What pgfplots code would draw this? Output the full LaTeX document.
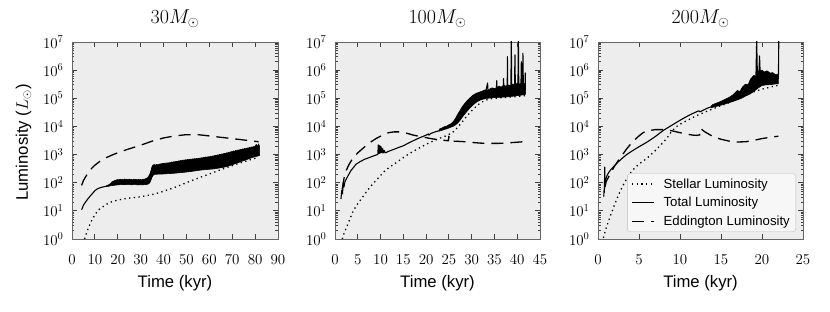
\RequirePackage{fix-cm}
\documentclass[border=0pt]{standalone}
\usepackage[no-math]{fontspec}
\setmainfont{Liberation Sans}
\usepackage{pgfplots}
\pgfplotsset{compat=1.18}

\tikzset{
  stellar/.style={black, line width=1.3pt, dash pattern=on 1.3pt off 3.4pt},
  total/.style={black, line width=1.1pt, line join=round},
  band/.style={black, fill=black, line width=0.6pt, line join=round},
  edd/.style={black, line width=1.3pt, dash pattern=on 12pt off 7pt},
}
\pgfplotsset{
  every axis/.append style={
    scale only axis, height=197pt,
    ymin=1, ymax=1e7,
    ytick={1,10,100,1000,10000,100000,1000000,10000000},
    axis line style={black!60, line width=0.8pt},
    tick style={black!75, line width=0.8pt},
    major tick length=5pt, minor tick length=2.5pt,
    tick label style={font=\fontsize{15}{18}\selectfont},
    xticklabel style={anchor=base, yshift=-26pt},
    yticklabel style={xshift=-5pt},
    xlabel={Time (kyr)},
    xlabel style={at={(axis description cs:0.5,-0.223)}, anchor=center, font=\fontsize{16.7}{20}\selectfont},
    ylabel style={font=\fontsize{16.7}{20}\selectfont},
    title style={at={(axis description cs:0.5,1)}, anchor=base, yshift=12pt, font=\fontsize{20}{24}\selectfont},
  },
}

\begin{document}
\begin{tikzpicture}
\useasboundingbox (0,0) rectangle (830pt,312pt);

% ---------------- Panel 1: 30 Msun ----------------
\begin{semilogyaxis}[at={(72pt,73pt)}, anchor=south west, width=206pt,
  axis background/.style={fill=black!7},
  xmin=0, xmax=90, xtick={0,10,...,90},
  title={$30M_{\odot}$},
  ylabel={Luminosity ($L_{\odot}$)},
  ylabel style={at={(axis description cs:-0.235,0.49)}, anchor=center}]
\addplot[stellar] coordinates {
(5.5,1) (6.2,1.5) (7,2.3) (8,3.6) (9,5.2) (10,7.2) (11,9.5) (12,11.5) (14,15) (16,19) (18,22) (20,24) (23,27) (26,29) (29,31) (32,34) (35,38) (38,44) (41,53) (44,64) (47,80) (50,100) (53,125) (56,155) (59,190) (62,235) (65,290) (68,355) (71,430) (74,520) (77,620) (80,740) (81.5,800)};
\addplot[total] coordinates {
(4.2,11) (4.6,13) (5,16) (6,21) (7,27) (8,34) (9,42) (10,52) (11,60) (12,65) (13,69) (14,72) (15,75)};
\addplot[band, forget plot] coordinates {
(15,78) (16,84) (17,96) (17.5,108) (18,112) (18.5,118) (19,122) (19.5,126) (20,130) (20.5,125) (21,134) (21.5,128) (22,132) (22.5,126) (23,136) (23.5,129) (24,133) (24.5,127) (25,135) (25.5,128) (26,131) (26.5,125) (27,134) (27.5,128) (28,131) (28.5,124) (29,133) (29.5,127) (30,130) (30.5,125) (31,134) (31.5,130) (32,138) (32.5,142) (33,150) (33.5,170) (34,200) (34.5,270) (35,380) (35.5,430) (36,440) (36.5,420)
(37,450) (37.5,430) (38,445) (38.5,470) (39,460) (39.5,490) (40,475) (40.5,500) (41,485) (41.5,510) (42,495) (42.5,520) (43,515) (43.5,545) (44,530) (44.5,560) (45,545) (45.5,575) (46,560) (46.5,600) (47,585) (47.5,620) (48,605) (48.5,640) (49,625) (49.5,655) (50,640) (50.5,670) (51,655) (51.5,690) (52,670) (52.5,700) (53,690) (53.5,720) (54,700) (54.5,730) (55,715) (55.5,750) (56,735) (56.5,770) (57,755) (57.5,800) (58,780) (58.5,820) (59,800) (59.5,840) (60,820) (60.5,870) (61,850) (61.5,900) (62,880) (62.5,940) (63,920) (63.5,980) (64,950) (64.5,1020) (65,990) (65.5,1060) (66,1030) (66.5,1110) (67,1080) (67.5,1160) (68,1130) (68.5,1220) (69,1190) (69.5,1280) (70,1250) (70.5,1340) (71,1300) (71.5,1400) (72,1360) (72.5,1460) (73,1420) (73.5,1520) (74,1480) (74.5,1600) (75,1550) (75.5,1650) (76,1600) (76.5,1720) (77,1680) (77.5,1800) (78,1750) (78.5,1880) (79,1820) (79.5,1950) (80,1900) (80.5,2300) (81,1900) (81.5,2400) (82,1900)
(82,950) (81.5,900) (81,880) (80.5,860) (80,840) (79.5,820) (79,800) (78.5,770) (78,750) (77.5,720) (77,700) (76.5,670) (76,650) (75.5,630) (75,610) (74.5,590) (74,570) (73.5,550) (73,530) (72.5,510) (72,495) (71.5,480) (71,465) (70.5,450) (70,435) (69.5,420) (69,405) (68.5,395) (68,385) (67.5,375) (67,365) (66.5,360) (66,350) (65.5,345) (65,340) (64.5,335) (64,330) (63.5,325) (63,320) (62,310) (61,305) (60,300) (59,295) (58,290) (57,285) (56,280) (55,272) (54,265) (53,258) (52,250) (51,245) (50,240) (49,235) (48,230) (47,226) (46,222) (45,218) (44,215) (43,212) (42,210) (41,207) (40,205) (39,203) (38,202) (37,200) (36,200) (35.5,185) (35,160) (34.5,125) (34,100) (33.5,92) (33,88) (32,86) (31,84) (30,85) (29,84) (28,85) (27,86) (26,84) (25,86) (24,85) (23,87) (22,86) (21,85) (20,84) (19,82) (18,80) (17,78) (16,75) (15,72)} -- cycle;
\addplot[edd] coordinates {
(4.2,80) (5,120) (6,165) (7,220) (8,285) (9,350) (10,420) (12,560) (15,780) (18,1000) (21,1250) (25,1600) (30,2150) (35,3000) (40,3900) (45,4600) (50,5100) (55,5100) (60,4600) (65,4100) (70,3700) (75,3300) (80,2950) (81.5,2850)};
\end{semilogyaxis}

% ---------------- Panel 2: 100 Msun ----------------
\begin{semilogyaxis}[at={(335pt,73pt)}, anchor=south west, width=205pt,
  axis background/.style={fill=black!7},
  xmin=0, xmax=45, xtick={0,5,...,45},
  title={$100M_{\odot}$}]
\addplot[stellar] coordinates {
(1.6,1) (2,1.6) (3,4) (4,10) (5,18) (6,30) (7,50) (8,80) (9,120) (10,180) (11,270) (12,360) (13,460) (14,600) (15,780) (16,1000) (17,1250) (18,1550) (19,1900) (20,2300) (21,2750) (22,3250) (23,3800) (24,4400) (25,5200) (26,6500) (27,9500) (28,15000) (29,24000) (30,36000) (31,52000) (32,70000) (33,85000) (34,95000) (35,100000) (37,106000) (39,112000) (41,120000) (41.8,125000)};
\addplot[total] coordinates {
(1.3,26) (1.5,55) (1.65,40) (1.8,100) (1.95,70) (2.2,110) (2.8,170) (3.5,270) (4.6,450) (5.5,560) (6.5,680) (7.5,780) (8.5,900) (9.3,1000)
(9.4,1000) (9.5,2200) (9.6,1100) (9.7,2100) (9.8,1100) (9.9,2000) (10,1150) (10.1,1900) (10.2,1200) (10.3,1700) (10.4,1150) (10.5,1600) (10.6,1150) (10.8,1400) (11,1150) (12,1350) (13,1550) (14,1800) (15,2050) (16,2500) (17,3000) (18,3600) (19,4200) (20,4900) (20.5,5400) (20.6,4900) (21,5600) (22,6400) (22.8,7000)};
\addplot[band, forget plot] coordinates {
(22.8,7200) (23,8200) (23.5,8800) (24,9800) (24.5,10200) (25,11500) (25.5,12500) (26,15000) (26.5,20000) (27,28000) (27.5,38000) (28,52000) (28.5,66000) (29,82000) (29.5,98000) (30,118000) (30.5,135000) (31,150000) (31.5,160000) (32,172000) (32.5,185000) (33,200000) (33.5,190000) (34,215000) (34.5,235000) (35,220000) (35.5,240000) (36,270000) (36.5,250000) (37,290000) (37.5,270000) (38,300000) (38.5,280000) (39,320000) (39.5,300000) (40,340000) (40.5,320000) (41,360000) (41.5,330000) (41.85,350000)
(41.85,140000) (41.5,135000) (41,130000) (40.5,127000) (40,124000) (39.5,121000) (39,118000) (38.5,116000) (38,114000) (37.5,112000) (37,110000) (36.5,109000) (36,108000) (35.5,107000) (35,106000) (34.5,104000) (34,102000) (33.5,100000) (33,97000) (32.5,93000) (32,88000) (31.5,80000) (31,72000) (30.5,62000) (30,52000) (29.5,43000) (29,35000) (28.5,28000) (28,22000) (27.5,17000) (27,13500) (26.5,11500) (26,10200) (25.5,9500) (25,8800) (24.5,8200) (24,7800) (23.5,7300) (23,6900) (22.8,6800)} -- cycle;
\addplot[total, forget plot] coordinates {
(33,150000) (33.5,350000) (33.6,150000) (35.4,160000) (35.5,420000) (35.6,160000) (36.9,150000) (37,500000) (37.1,150000) (37.8,160000) (37.85,3000000) (37.9,160000) (38.6,170000) (38.7,12000000) (38.8,170000) (39.4,180000) (39.5,3500000) (39.6,180000) (40.15,190000) (40.25,15000000) (40.35,190000) (40.8,200000) (40.9,2000000) (41.0,200000) (41.15,210000) (41.25,4000000) (41.35,210000) (41.7,200000) (41.75,800000) (41.8,200000)};
\addplot[edd] coordinates {
(1.6,60) (2,150) (2.5,280) (3,420) (3.5,580) (4,780) (5,1150) (6,1600) (7,2200) (8,2900) (9,3700) (10,4500) (11,5500) (12,6100) (13,6400) (14,6400) (15,6100) (16,5600) (17,5000) (18,4600) (19,4200) (20,4000) (21,3700) (22,3500) (23,3300) (24,3200) (24.9,3100) (25,4600) (25.1,3100) (26,3000) (28,2900) (30,2700) (32,2550) (34,2500) (36,2500) (38,2600) (40,2750) (41.8,2900)};
\end{semilogyaxis}

% ---------------- Panel 3: 200 Msun ----------------
\begin{semilogyaxis}[at={(598pt,73pt)}, anchor=south west, width=205pt,
  axis background/.style={fill=black!7},
  xmin=0, xmax=25, xtick={0,5,...,25},
  title={$200M_{\odot}$},
  legend style={at={(axis description cs:0.966,0.036)}, anchor=south east,
    draw=black!25, fill=black!3, rounded corners=3pt,
    font=\fontsize{13.2}{15.5}\selectfont, row sep=3.5pt, inner xsep=4pt, inner ysep=3pt},
  legend cell align=left,
  legend image code/.code={\draw[#1] (0pt,0pt) -- (22pt,0pt); \path (29pt,0pt);}]
\addplot[stellar] coordinates {
(0.65,1.1) (1,2.5) (1.5,6.5) (2,16) (2.5,37) (3,75) (3.5,140) (4,230) (4.5,340) (5,460) (6,750) (7,1400) (8,2800) (8.5,4200) (9,6800) (9.5,9500) (10,12000) (11,17000) (12,24000) (13,32000) (14,42000) (15,55000) (16,70000) (17,95000) (18,130000) (19,170000) (20,210000) (21,250000) (22,290000)};
\addlegendentry{Stellar Luminosity}
\addplot[total] coordinates {
(0.7,32) (0.75,60) (0.78,45) (0.82,360) (0.86,90) (0.95,130) (1.1,180) (1.3,230) (1.6,300) (2,400) (2.5,560) (3,760) (3.5,1000) (4,1250) (4.5,1550) (5,1900) (5.5,2300) (6,2800) (6.5,3500) (7,4400) (7.5,5700) (8,7300) (8.5,9000) (9,11000) (9.5,13500) (10,16500) (10.5,20000) (11,24000) (11.5,28500) (12,33000) (12.3,36000) (12.4,33000) (12.7,36000) (13,40000) (13.3,44000) (13.8,50000)};
\addlegendentry{Total Luminosity}
\addplot[band, forget plot] coordinates {
(13.8,52000) (14,60000) (14.5,68000) (15,78000) (15.5,92000) (16,108000) (16.5,135000) (17,190000) (17.3,170000) (17.6,250000) (18,320000) (18.3,300000) (18.6,480000) (19,650000) (19.3,600000) (19.6,900000) (20,1000000) (20.3,850000) (20.6,950000) (21,780000) (21.3,820000) (21.6,700000) (22,720000)
(22,330000) (21.5,320000) (21,305000) (20.5,300000) (20,285000) (19.5,230000) (19,175000) (18.5,140000) (18,120000) (17.5,100000) (17,88000) (16.5,78000) (16,70000) (15.5,63000) (15,57000) (14.5,52000) (14,48000) (13.8,46000)} -- cycle;
\addplot[total, forget plot] coordinates {
(19.25,400000) (19.35,12000000) (19.45,400000) (19.6,500000) (19.7,3200000) (19.8,500000) (21.9,500000) (22,500000) (22.05,15000000)};
\addplot[edd] coordinates {
(0.85,70) (1,110) (1.5,210) (2,380) (2.5,630) (3,1000) (3.5,1600) (4,2400) (4.5,3400) (5,4600) (5.5,6000) (6,7000) (7,7700) (8,7700) (9,7000) (10,6000) (11,5200) (11.6,4900) (12,4800) (12.4,5000) (12.5,8500) (13,6500) (14,4400) (15,3500) (16,3000) (17,2800) (18,2850) (19,3200) (20,3700) (21,4100) (22,4500)};
\addlegendentry{Eddington Luminosity}
\end{semilogyaxis}
\end{tikzpicture}
\end{document}
